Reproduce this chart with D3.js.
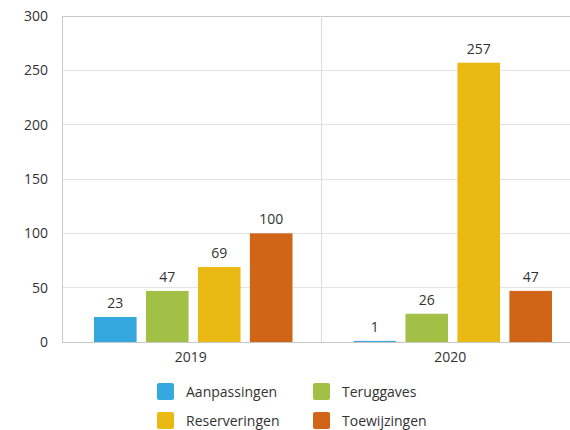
<!DOCTYPE html>
<html>
<head>
<meta charset="utf-8">
<script src="https://cdn.jsdelivr.net/npm/d3@7"></script>
<style>
  html, body { margin: 0; padding: 0; background: #fff; overflow: hidden; }
  svg { display: block; font-family: "Open Sans", Lato, sans-serif; }
</style>
</head>
<body>
<div id="chart"></div>
<script>
  var years = ["2019", "2020"];
  var series = ["Aanpassingen", "Teruggaves", "Reserveringen", "Toewijzingen"];
  var colors = ["#35a8e0", "#a2c046", "#ebb914", "#d06518"];
  var values2019 = [23, 47, 69, 100];
  var values2020 = [1, 26, 257, 47];
  var yTicks = [0, 50, 100, 150, 200, 250, 300];

  var width = 570, height = 430;
  // the band scale runs a little past the right edge, as in the original
  var margin = { top: 16, right: -11, bottom: 88, left: 62 };
  var innerWidth = width - margin.left - margin.right;
  var innerHeight = height - margin.top - margin.bottom;
  var visibleWidth = width - margin.left;

  var svg = d3.select("#chart").append("svg").attr("width", width).attr("height", height);
  var g = svg.append("g").attr("transform", "translate(" + margin.left + "," + margin.top + ")");

  var data = years.map(function (y, i) {
    var vals = i === 0 ? values2019 : values2020;
    return { year: y, values: series.map(function (s, j) { return { key: s, value: vals[j], color: colors[j] }; }) };
  });

  var x0 = d3.scaleBand().domain(years).range([0, innerWidth]);
  var x1 = d3.scaleBand().domain(series).range([32, x0.bandwidth() - 29]).paddingInner(0.18);
  var y = d3.scaleLinear().domain([0, 300]).range([innerHeight, 0]);

  // grid
  g.selectAll("line.grid").data(yTicks).enter().append("line")
    .attr("class", "grid")
    .attr("x1", 0).attr("x2", visibleWidth)
    .attr("y1", function (d) { return y(d); }).attr("y2", function (d) { return y(d); })
    .attr("stroke", function (d) { return d === 300 || d === 0 ? "#c8c8c8" : "#e4e4e4"; })
    .attr("stroke-width", 1)
    .attr("shape-rendering", "crispEdges");

  // vertical divider and left axis
  g.append("line").attr("x1", x0("2020")).attr("x2", x0("2020")).attr("y1", 0).attr("y2", innerHeight)
    .attr("stroke", "#dcdcdc").attr("shape-rendering", "crispEdges");
  g.append("line").attr("x1", 0).attr("x2", 0).attr("y1", 0).attr("y2", innerHeight)
    .attr("stroke", "#c8c8c8").attr("shape-rendering", "crispEdges");

  // y labels
  g.selectAll("text.ytick").data(yTicks).enter().append("text")
    .attr("class", "ytick")
    .attr("x", -14).attr("y", function (d) { return y(d); })
    .attr("dy", "0.35em").attr("text-anchor", "end")
    .attr("font-size", 14).attr("fill", "#333")
    .text(function (d) { return d; });

  // x labels
  g.selectAll("text.xtick").data(years).enter().append("text")
    .attr("class", "xtick")
    .attr("x", function (d) { return x0(d) + x0.bandwidth() / 2 - 1; })
    .attr("y", innerHeight + 20)
    .attr("text-anchor", "middle").attr("font-size", 14).attr("fill", "#333")
    .text(function (d) { return d; });

  var groups = g.selectAll("g.year").data(data).enter().append("g")
    .attr("class", "year")
    .attr("transform", function (d) { return "translate(" + x0(d.year) + ",0)"; });

  groups.selectAll("rect").data(function (d) { return d.values; }).enter().append("rect")
    .attr("x", function (d) { return x1(d.key); })
    .attr("y", function (d) { return y(d.value); })
    .attr("width", x1.bandwidth())
    .attr("height", function (d) { return innerHeight - y(d.value); })
    .attr("fill", function (d) { return d.color; });

  groups.selectAll("text").data(function (d) { return d.values; }).enter().append("text")
    .attr("x", function (d) { return x1(d.key) + x1.bandwidth() / 2; })
    .attr("y", function (d) { return y(d.value) - 9; })
    .attr("text-anchor", "middle").attr("font-size", 14).attr("fill", "#333")
    .text(function (d) { return d.value; });

  // legend
  var legend = svg.append("g").attr("transform", "translate(157,383)");
  var item = legend.selectAll("g").data(series).enter().append("g")
    .attr("transform", function (d, i) { return "translate(" + (i % 2) * 156 + "," + Math.floor(i / 2) * 29 + ")"; });
  item.append("rect").attr("width", 17).attr("height", 17).attr("rx", 2)
    .attr("fill", function (d, i) { return colors[i]; });
  item.append("text").attr("x", 29).attr("y", 9).attr("dy", "0.35em")
    .attr("font-size", 14).attr("fill", "#333")
    .text(function (d) { return d; });
</script>
</body>
</html>
